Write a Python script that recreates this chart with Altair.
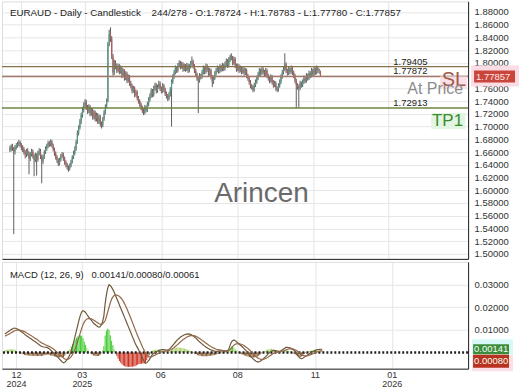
import altair as alt
import pandas as pd

# ---------------- data (prices in units of 0.0001) ----------------
opens = [16660,16640,16690,16655,16610,16680,16700,16725,16755,16710,
 16680,16650,16600,16560,16620,16580,16500,16560,16610,16540,16470,16550,16480,16590,16620,16530,16450,16520,
 16600,16650,16700,16740,16720,
 16760,16700,16640,16580,16520,16470,
 16420,16480,16530,16560,16500,16440,16400,16360,16340,
 16390,16450,16520,16580,16650,16760,16900,16980,17080,17180,17260,17330,17380,
 17300,17250,17310,17200,17260,17150,17220,17120,17180,17080,17150,17040,
 17020,17120,17220,17310,17400,18300,18450,18380,18100,17850,
 18000,17950,17880,17950,17860,17920,17800,17870,17760,17830,17720,17780,
 17680,17640,17560,17600,17500,17540,17450,
 17400,17350,17300,17250,17220,17300,17260,17350,
 17420,17480,17560,17500,17600,17650,17560,17620,17680,17600,17560,17640,17580,
 17520,17480,17440,17500,17580,17700,
 17780,17850,17920,17880,17960,18000,17940,17980,17900,
 17950,17900,17960,17880,17940,17990,18020,17950,
 17880,17820,17760,17720,17800,
 17780,17850,17920,17860,17950,17900,17830,17880,17780,17700,
 17760,17830,17880,17920,17870,17940,17900,17960,17910,17980,18030,
 17960,18050,18100,18080,18000,18060,17960,17900,17950,
 17880,17920,17860,17900,17840,17880,17800,
 17760,17700,17640,17620,17580,17650,17700,
 17760,17820,17880,17840,17900,17860,17820,17880,17800,
 17760,17720,17780,17700,17650,17680,17600,17580,17640,
 17700,17780,17850,17900,17980,17880,
 17840,17900,17860,17920,17850,
 17800,17720,17650,17620,17600,17680,
 17650,17700,17760,17720,17800,17760,17840,17800,17880,17820,17900,17850,17920,17880,17872.4]

closes = [16640,16690,16655,16610,16680,16700,16725,16755,16710,16680,
 16650,16600,16560,16620,16580,16500,16560,16610,16540,16470,16550,16480,16590,16620,16530,16450,16520,16600,
 16650,16700,16740,16720,16760,
 16700,16640,16580,16520,16470,16420,
 16480,16530,16560,16500,16440,16400,16360,16340,16390,
 16450,16520,16580,16650,16760,16900,16980,17080,17180,17260,17330,17380,17300,
 17250,17310,17200,17260,17150,17220,17120,17180,17080,17150,17040,17020,
 17120,17220,17310,17400,18300,18450,18380,18100,17850,18000,
 17950,17880,17950,17860,17920,17800,17870,17760,17830,17720,17780,17680,
 17640,17560,17600,17500,17540,17450,17400,
 17350,17300,17250,17220,17300,17260,17350,17420,
 17480,17560,17500,17600,17650,17560,17620,17680,17600,17560,17640,17580,17520,
 17480,17440,17500,17580,17700,17780,
 17850,17920,17880,17960,18000,17940,17980,17900,17950,
 17900,17960,17880,17940,17990,18020,17950,17880,
 17820,17760,17720,17800,17780,
 17850,17920,17860,17950,17900,17830,17880,17780,17700,17760,
 17830,17880,17920,17870,17940,17900,17960,17910,17980,18030,17960,
 18050,18100,18080,18000,18060,17960,17900,17950,17880,
 17920,17860,17900,17840,17880,17800,17760,
 17700,17640,17620,17580,17650,17700,17760,
 17820,17880,17840,17900,17860,17820,17880,17800,17760,
 17720,17780,17700,17650,17680,17600,17580,17640,17700,
 17780,17850,17900,17980,17880,17840,
 17900,17860,17920,17850,17800,
 17720,17650,17620,17600,17680,17650,
 17700,17760,17720,17800,17760,17840,17800,17880,17820,17900,17850,17920,17880,17872,17785.7]

highs = [16700,16720,16730,16680,16710,16740,16760,16790,16780,16740,
 16710,16680,16630,16650,16660,16610,16600,16650,16640,16570,16590,16580,16620,16660,16650,16560,16560,16630,
 16690,16730,16780,16770,16800,
 16790,16730,16670,16610,16550,16500,
 16510,16570,16600,16590,16530,16470,16430,16390,16420,
 16480,16550,16620,16690,16790,16940,17020,17120,17220,17310,17380,17430,17420,
 17340,17350,17340,17300,17290,17260,17250,17220,17210,17190,17180,17080,
 17150,17260,17350,17440,18330,18520,18560,18420,18140,18050,
 18040,17990,17990,17980,17960,17950,17910,17900,17870,17860,17820,17810,
 17720,17670,17640,17630,17580,17570,17480,
 17430,17380,17330,17280,17340,17330,17390,17460,
 17520,17600,17590,17640,17690,17680,17660,17720,17710,17630,17680,17670,17610,
 17550,17510,17540,17620,17740,17820,
 17890,17960,17950,18000,18040,18030,18020,18010,17990,
 17980,18000,17990,17980,18030,18100,18050,17980,
 17910,17850,17790,17840,17830,
 17890,17960,17950,17990,17980,17930,17920,17910,17810,17800,
 17870,17920,17960,17950,17980,17970,18000,17990,18020,18070,18060,
 18090,18130,18150,18110,18100,18090,17990,17990,17980,
 17960,17950,17940,17930,17920,17910,17830,
 17790,17730,17670,17650,17690,17740,17800,
 17860,17920,17910,17940,17930,17890,17920,17910,17830,
 17790,17820,17810,17730,17720,17710,17630,17680,17740,
 17820,17890,17940,18150,18010,17910,
 17940,17930,17960,17950,17880,
 17830,17750,17680,17660,17720,17710,
 17740,17800,17790,17840,17830,17880,17870,17920,17910,17940,17930,17960,17950,17910,17878.3]

lows = [16600,16610,16620,15310,16560,16640,16670,16690,16670,16630,
 16600,16560,16500,16520,16540,16250,16460,16530,16500,16220,16440,16230,16450,16550,16490,16110,16410,16490,
 16570,16620,16660,16680,16690,
 16670,16610,16540,16480,16430,16380,
 16390,16450,16510,16460,16400,16360,16320,16290,16310,
 16360,16420,16490,16550,16620,16730,16860,16950,17040,17140,17220,17290,17260,
 17200,17210,17160,17170,17110,17110,17080,17080,17040,17040,17000,16970,
 16990,17090,17190,17280,17380,18260,18330,18060,17800,17810,
 17900,17840,17850,17820,17830,17760,17770,17720,17730,17680,17690,17640,
 17600,17520,17530,17460,17470,17410,17360,
 17310,17260,17210,17180,17190,17220,17230,17320,
 17390,17450,17460,17470,17570,17520,17530,17590,17560,17520,17530,17540,17480,
 17440,17400,17410,17470,17000,17670,
 17750,17820,17840,17850,17930,17900,17910,17860,17870,
 17860,17870,17840,17850,17910,17960,17910,17840,
 17780,17720,17210,17690,17740,
 17750,17820,17820,17830,17860,17790,17800,17740,17620,17670,
 17730,17800,17850,17830,17840,17860,17870,17870,17880,17950,17920,
 17930,18010,18040,17960,17970,17920,17860,17870,17840,
 17850,17820,17830,17800,17810,17760,17720,
 17660,17600,17580,17540,17550,17620,17670,
 17730,17790,17800,17810,17820,17780,17790,17760,17720,
 17680,17690,17660,17610,17620,17560,17540,17550,17610,
 17670,17750,17820,17870,17840,17800,
 17810,17820,17830,17810,17760,
 17680,17290,17580,17300,17570,17610,
 17620,17670,17680,17690,17720,17730,17760,17770,17780,17790,17810,17820,17840,17830,17778.0]

# MACD (12,26,9) values, in units of 0.0001
macd_e4 = [82,86,90,94,98,102,105,108,
 107,105,102,98,94,90,86,81,76,72,68,64,60,56,52,48,44,40,35,31,27,
 25,24,23,22,20,16,11,5,0,-6,-12,-18,-24,-30,-36,-42,-46,
 -44,-38,-30,-20,-8,8,28,50,74,98,122,145,165,180,
 185,182,176,168,160,152,145,138,130,125,120,116,112,113,120,
 135,160,215,255,285,300,
 296,288,278,266,252,238,224,210,196,182,168,154,140,126,112,98,84,70,56,42,30,
 20,8,-4,-16,-28,-40,-48,-46,-40,-32,-22,-12,
 -6,-2,2,5,8,10,11,12,12,11,10,10,13,18,24,31,38,45,52,58,63,68,72,75,78,80,81,82,
 81,79,76,72,67,62,56,50,45,40,35,30,26,22,18,15,12,10,
 8,6,5,5,6,7,7,6,5,5,6,8,12,
 30,45,52,55,52,47,42,37,
 32,27,22,16,10,4,-3,-10,-17,-24,-30,-35,-39,-42,-42,
 -40,-36,-32,-27,-21,-15,-9,-3,
 2,6,8,9,8,7,5,5,7,
 10,14,18,22,22,21,20,18,
 14,10,4,-4,-12,-20,-26,-28,
 -26,-22,-18,-14,-10,-6,-2,2,5,8,10,12,13,13.5,14,14.1]

signal_e4 = [72,75,78,81,84,88,91,95,
 97,99,99,99,98,96,94,92,89,85,82,78,75,71,67,63,60,56,51,47,43,
 40,37,34,32,29,27,24,20,16,12,7,2,-3,-8,-14,-19,-25,
 -29,-31,-31,-29,-24,-18,-9,3,17,33,51,70,89,107,
 123,135,143,148,150,151,150,147,144,140,136,132,128,125,124,
 126,133,140,158,180,200,
 220,236,246,252,254,254,252,248,242,235,226,215,203,190,176,162,148,133,118,103,88,
 74,60,47,34,21,9,-2,-11,-17,-20,-20,-19,
 -16,-13,-10,-7,-4,-1,1,3,5,6,7,8,9,11,13,17,21,26,31,36,42,47,52,57,61,65,68,71,
 73,74,74,74,73,70,68,64,60,56,52,48,43,39,35,31,27,24,
 21,18,15,13,12,11,10,9,8,8,7,7,8,
 13,19,26,32,36,38,39,39,
 37,35,33,29,25,21,16,11,5,-1,-7,-13,-18,-23,-27,
 -29,-31,-31,-30,-28,-26,-22,-18,
 -14,-10,-6,-3,-1,0,1,2,3,
 4,6,9,11,13,15,16,16,
 16,15,12,9,5,0,-5,-10,
 -13,-15,-15,-15,-14,-12,-10,-8,-5,-2,0,2,4,6,7,8]

tick_index = [8.4, 59.1, 119.4, 178.5, 238.3, 297.4]
tick_month = ["12", "03", "06", "08", "11", "01"]
tick_year = ["2024", "2025", "", "", "", "2026"]

price_ticks = [1.50, 1.52, 1.54, 1.56, 1.58, 1.60, 1.62, 1.64, 1.66, 1.68,
               1.70, 1.72, 1.74, 1.76, 1.78, 1.80, 1.82, 1.84, 1.86, 1.88]
macd_ticks = [0.01, 0.02, 0.03]

level_values = [1.79405, 1.77872, 1.72913]
level_labels = ["1.79405", "1.77872", "1.72913"]
level_colors = ["#85744a", "#a27a6c", "#6f8540"]

last_price = 1.77857
NB = "\u00a0"
title_text = "EURAUD - Daily - Candlestick" + NB * 4 + "244/278 - O:1.78724 - H:1.78783 - L:1.77780 - C:1.77857"
macd_text = "MACD (12, 26, 9)" + NB * 3 + "0.00141/0.00080/0.00061"
macd_last = 0.00141
signal_last = 0.00080

# ---------------- layout constants ----------------
W = 467
H_TOP = 258
H_BOT = 107
FONT = "Liberation Sans"
x_dom = [-2.3, 356.1]
p_dom = [1.4922, 1.8966]
m_dom = [-0.0072, 0.0401]
ppu = H_TOP / (p_dom[1] - p_dom[0])      # px per price unit
mpu = H_BOT / (m_dom[1] - m_dom[0])      # px per macd unit

n = min(len(opens), len(closes), len(highs), len(lows), len(macd_e4), len(signal_e4))
df = pd.DataFrame({
    "i": list(range(n)),
    "o": [v / 1e4 for v in opens[:n]],
    "c": [v / 1e4 for v in closes[:n]],
    "h": [v / 1e4 for v in highs[:n]],
    "l": [v / 1e4 for v in lows[:n]],
    "m": [v / 1e4 for v in macd_e4[:n]],
    "s": [v / 1e4 for v in signal_e4[:n]],
})
df["col"] = ["#4e9a86" if c >= o else "#b35a58" for o, c in zip(df["o"], df["c"])]
df["hist"] = df["m"] - df["s"]
def hcol(h):
    if h >= 0.0025:
        return "#3ccc2c"
    if h >= 0:
        return "#a9d46a"
    if h > -0.0025:
        return "#85562c"
    return "#cc2a1a"
df["hcol"] = [hcol(v) for v in df["hist"]]
df["zero"] = 0.0

lbl_parts = []
for v, mo, yr in zip(tick_index, tick_month, tick_year):
    arr = f"['{mo}','{yr}']" if yr else f"'{mo}'"
    lbl_parts.append(f"datum.value == {v} ? {arr}")
label_expr = " : ".join(lbl_parts) + " : ''"

xs = alt.Scale(domain=x_dom, nice=False, zero=False)
ps = alt.Scale(domain=p_dom, nice=False, zero=False)
ms = alt.Scale(domain=m_dom, nice=False, zero=False)

x_top_axis = alt.Axis(values=tick_index, labels=False, ticks=False, domain=True,
                      domainColor="#222", grid=True, gridColor="#e4e4e4", title=None)
x_bot_axis = alt.Axis(values=tick_index, labelExpr=label_expr, ticks=False, domain=True,
                      domainColor="#222", grid=True, gridColor="#e4e4e4", title=None,
                      labelFontSize=9, labelColor="#333", labelPadding=2,
                      labelLineHeight=9, labelOverlap=False, labelFlush=False, labelFont=FONT)
p_axis = alt.Axis(orient="right", values=price_ticks, format=".5f", ticks=False,
                  labelPadding=6, labelFontSize=9.5, labelColor="#333", domain=True,
                  domainColor="#222", grid=True, gridColor="#e6e6e6", title=None,
                  labelOverlap=False, labelFlush=False, labelFont=FONT)
m_axis = alt.Axis(orient="right", values=macd_ticks, format=".5f", ticks=False,
                  labelPadding=6, labelFontSize=9.5, labelColor="#333", domain=True,
                  domainColor="#222", grid=True, gridColor="#e6e6e6", title=None,
                  labelOverlap=False, labelFlush=False, labelFont=FONT)

def XT(f="i"):
    return alt.X(f, type="quantitative", scale=xs, axis=x_top_axis)
def XB(f="i"):
    return alt.X(f, type="quantitative", scale=xs, axis=x_bot_axis)
def YP(f):
    return alt.Y(f, type="quantitative", scale=ps, axis=p_axis)
def YM(f):
    return alt.Y(f, type="quantitative", scale=ms, axis=m_axis)

base = alt.Chart(df)

wicks = base.mark_rule(strokeWidth=1, color="#5e5e5e").encode(x=XT(), y=YP("l"), y2="h")
bodies = base.mark_bar(width=1.2).encode(x=XT(), y=YP("o"), y2="c",
                                         color=alt.Color("col:N", scale=None))

lv = pd.DataFrame({"p": level_values, "t": level_labels, "col": level_colors})
level_rules = alt.Chart(lv).mark_rule(strokeWidth=1.4).encode(
    y=YP("p"), color=alt.Color("col:N", scale=None))
level_text = alt.Chart(lv).mark_text(align="left", baseline="alphabetic", dy=-2,
                                     fontSize=9.5, color="#222", font=FONT).encode(
    x=alt.value(392), y=YP("p"), text="t:N")

ann = pd.DataFrame({
    "p": [level_values[1], last_price, level_values[2]],
    "p2": [level_values[1] - 12 / ppu, last_price, level_values[2] - 21 / ppu],
    "p1": [level_values[1], last_price, level_values[2] - 5 / ppu],
    "t": ["SL", "At Price", "TP1"],
})
sl_bg = alt.Chart(ann.iloc[[0]]).mark_rect(color="#fbe1e6").encode(
    x=alt.value(439), x2=alt.value(466), y=YP("p1"), y2="p2")
tp_bg = alt.Chart(ann.iloc[[2]]).mark_rect(color="#e2f4e2").encode(
    x=alt.value(430), x2=alt.value(464), y=YP("p1"), y2="p2")
sl_text = alt.Chart(ann.iloc[[0]]).mark_text(align="right", baseline="middle", dy=4,
                                             fontSize=20, color="#a25a4e", font=FONT).encode(
    x=alt.value(465), y=YP("p"), text="t:N")
at_text = alt.Chart(ann.iloc[[1]]).mark_text(align="right", baseline="middle", dy=13,
                                             fontSize=16, color="#8c8c8c", font=FONT).encode(
    x=alt.value(462), y=YP("p"), text="t:N")
tp_text = alt.Chart(ann.iloc[[2]]).mark_text(align="right", baseline="middle", dy=13,
                                             fontSize=17, color="#3b8a2e", font=FONT).encode(
    x=alt.value(462), y=YP("p"), text="t:N")

lp = pd.DataFrame({"p": [last_price], "t": [f"{last_price:.5f}"],
                   "a": [last_price + 6 / ppu], "b": [last_price - 6 / ppu],
                   "ga": [last_price + 11 / ppu], "gb": [last_price - 10 / ppu]})
lp_glow = alt.Chart(lp).mark_rect(color="#fbdbe4").encode(
    x=alt.value(470), x2=alt.value(518), y=YP("ga"), y2="gb")
lp_box = alt.Chart(lp).mark_rect(color="#c9463d").encode(
    x=alt.value(473), x2=alt.value(514), y=YP("a"), y2="b")
lp_text = alt.Chart(lp).mark_text(align="left", baseline="middle", fontSize=9.5,
                                  color="#ffe6e6", font=FONT).encode(
    x=alt.value(475), y=YP("p"), text="t:N")

ttl = pd.DataFrame({"t": [title_text]})
title_mark = alt.Chart(ttl).mark_text(align="left", baseline="middle", fontSize=9.8,
                                      color="#222", font=FONT).encode(
    x=alt.value(8), y=alt.value(12), text="t:N")
wm = pd.DataFrame({"t": ["Arincen"]})
watermark = alt.Chart(wm).mark_text(align="center", baseline="middle", fontSize=28,
                                    color="#6a6a6a", font=FONT).encode(
    x=alt.value(260), y=alt.value(193), text="t:N")

top = alt.layer(wicks, bodies, level_rules, level_text, sl_bg, tp_bg, watermark,
                sl_text, at_text, tp_text, lp_glow, lp_box, lp_text, title_mark
                ).properties(width=W, height=H_TOP)

# ---------------- MACD panel ----------------
mbase = alt.Chart(df)
hist = mbase.mark_rule(strokeWidth=1).encode(
    x=XB(), y=YM("zero"), y2="hist", color=alt.Color("hcol:N", scale=None))
zdf = pd.DataFrame({"z": [0.0]})
zero_line = alt.Chart(zdf).mark_rule(strokeWidth=2.5, strokeDash=[2, 2], color="#222").encode(
    y=YM("z"))
macd_line = mbase.mark_line(strokeWidth=1.2, color="#6e5a3a").encode(x=XB(), y=YM("m"))
sig_line = mbase.mark_line(strokeWidth=1.2, color="#94684a").encode(x=XB(), y=YM("s"))

mb = pd.DataFrame({
    "v": [macd_last, signal_last],
    "t": [f"{macd_last:.5f}", f"{signal_last:.5f}"],
    "a": [macd_last + 5 / mpu, macd_last - 5.5 / mpu],
    "b": [macd_last - 5 / mpu, macd_last - 18.5 / mpu],
    "ga": [macd_last + 10 / mpu, macd_last - 5.5 / mpu],
    "gb": [macd_last - 5 / mpu, macd_last - 22 / mpu],
    "mid": [macd_last, macd_last - 12 / mpu],
    "col": ["#3c8c3c", "#b8321f"],
    "gcol": ["#d6f8f6", "#fbe0e8"],
})
mb_glow = alt.Chart(mb).mark_rect().encode(
    x=alt.value(471), x2=alt.value(512), y=YM("ga"), y2="gb",
    color=alt.Color("gcol:N", scale=None))
mb_box = alt.Chart(mb).mark_rect().encode(
    x=alt.value(472), x2=alt.value(508), y=YM("a"), y2="b",
    color=alt.Color("col:N", scale=None))
mb_text = alt.Chart(mb).mark_text(align="left", baseline="middle", fontSize=9.5,
                                  color="#f2fff2", font=FONT).encode(
    x=alt.value(473), y=YM("mid"), text="t:N")

mt = pd.DataFrame({"t": [macd_text]})
macd_title = alt.Chart(mt).mark_text(align="left", baseline="middle", fontSize=9.5,
                                     color="#222", font=FONT).encode(
    x=alt.value(8), y=alt.value(13), text="t:N")

bottom = alt.layer(hist, zero_line, macd_line, sig_line, mb_glow, mb_box, mb_text,
                   macd_title).properties(width=W, height=H_BOT)

chart = alt.vconcat(top, bottom, spacing=1).properties(
    padding={"left": 0, "top": 0, "right": 0, "bottom": 0}
).configure_view(stroke=None).configure(font=FONT, background="white")

chart.save("out.html", embed_options={"renderer": "svg", "actions": False})
